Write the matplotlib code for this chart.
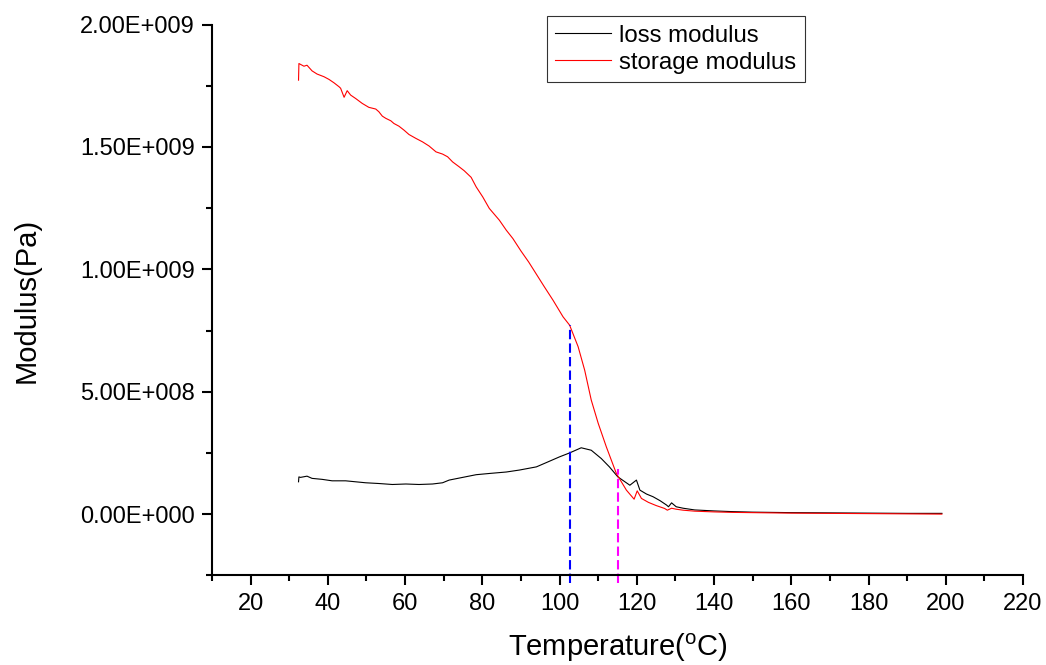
#Libraries
import numpy as np
import matplotlib
matplotlib.use('Agg')
import matplotlib.pyplot as plt
import matplotlib.ticker as ticker

#Data (temperature in C, modulus in 1E9 Pa)
temp_storage=[32.4,32.5,33.8,34.6,35.9,37.2,39.0,40.3,41.6,42.9,43.3,44.2,45.0,45.9,47.2,48.9,
              50.6,52.4,53.2,54.1,55.0,56.3,57.1,58.4,59.7,61.0,62.8,64.5,66.2,68.0,69.7,71.0,
              72.3,74.0,75.3,77.1,78.4,80.1,81.8,84.4,86.2,87.9,90.0,92.0,94.0,96.0,98.3,100.9,
              102.6,104.8,106.5,108.2,110.0,112.1,114.7,117.3,119.3,120.1,121.2,123.0,125.0,
              127.2,127.9,129.0,130.2,132.0,135.0,140.0,145.0,150.0,160.0,170.0,180.0,190.0,199.0]
storage=[1.773,1.841,1.830,1.834,1.811,1.798,1.787,1.776,1.762,1.746,1.740,1.703,1.730,1.712,1.698,1.678,
         1.662,1.655,1.644,1.626,1.617,1.607,1.596,1.585,1.569,1.551,1.535,1.521,1.504,1.480,1.471,1.460,
         1.439,1.419,1.403,1.376,1.337,1.296,1.249,1.201,1.160,1.126,1.075,1.030,0.980,0.930,0.874,0.806,
         0.772,0.684,0.588,0.466,0.371,0.275,0.166,0.098,0.061,0.095,0.064,0.048,0.035,
         0.023,0.016,0.024,0.020,0.016,0.012,0.009,0.007,0.006,0.004,0.003,0.002,0.001,0.000]

temp_loss=[32.4,32.5,32.9,34.6,35.9,38.5,41.1,44.6,47.2,49.8,53.2,56.7,60.2,63.6,67.1,69.7,71.4,
           74.9,78.4,81.8,86.2,89.6,94.0,96.5,100.0,102.6,105.6,108.2,110.8,112.9,115.1,118.2,
           119.9,120.8,122.5,124.2,126.0,127.7,128.2,129.0,130.2,132.0,135.0,140.0,145.0,150.0,
           160.0,170.0,180.0,190.0,199.0]
loss=[0.132,0.152,0.150,0.155,0.146,0.142,0.136,0.136,0.132,0.128,0.125,0.121,0.123,0.121,0.123,0.128,0.139,
      0.150,0.161,0.166,0.172,0.180,0.193,0.210,0.234,0.250,0.271,0.261,0.227,0.193,0.152,0.118,
      0.139,0.098,0.082,0.071,0.055,0.037,0.030,0.046,0.030,0.024,0.017,0.013,0.010,0.008,
      0.006,0.005,0.004,0.003,0.003]

#Reference lines (temperature, top value in 1E9 Pa)
tg_onset=(102.6,0.772)
tg_cross=(115.2,0.183)
line_bottom=-0.28

#Axis ticks
yticks=[0.0,0.5e9,1.0e9,1.5e9,2.0e9]
xticks=[20,40,60,80,100,120,140,160,180,200,220]

def format_sci(v,pos=None):
    if v==0:
        return '0.00E+000'
    e=int(np.floor(np.log10(abs(v))))
    m=v/10**e
    return '%.2fE%s%03d'%(m,'+' if e>=0 else '-',abs(e))

#Set style
plt.rcParams['font.family']=['Liberation Sans','DejaVu Sans']
plt.rcParams['mathtext.default']='regular'

fig=plt.figure(figsize=(10.46,6.65),dpi=100)
ax=fig.add_axes([0.2027,0.1349,0.7753,0.8281])

ax.plot(temp_loss,np.array(loss)*1e9,color='black',lw=0.8,label='loss modulus')
ax.plot(temp_storage,np.array(storage)*1e9,color='#ff0000',lw=0.8,label='storage modulus')

ax.plot([tg_onset[0]]*2,[line_bottom*1e9,tg_onset[1]*1e9],color='#0000ff',lw=1.5,
        linestyle=(0,(4.5,2.0)),clip_on=False)
ax.plot([tg_cross[0]]*2,[line_bottom*1e9,tg_cross[1]*1e9],color='#ff00ff',lw=1.5,
        linestyle=(0,(4.5,2.0)),clip_on=False)

ax.set_xlim(10,220)
ax.set_ylim(-0.25e9,2.0e9)
ax.set_xticks(xticks)
ax.xaxis.set_minor_locator(ticker.MultipleLocator(10))
ax.set_yticks(yticks)
ax.yaxis.set_minor_locator(ticker.MultipleLocator(0.25e9))
ax.yaxis.set_major_formatter(ticker.FuncFormatter(format_sci))

for s in ['top','right']:
    ax.spines[s].set_visible(False)
for s in ['left','bottom']:
    ax.spines[s].set_linewidth(1.5)
ax.tick_params(which='major',direction='out',length=7.5,width=1.5,labelsize=17,pad=5)
ax.tick_params(which='minor',direction='out',length=4.5,width=1.5)

ax.set_xlabel('Temperature($^{o}$C)',fontsize=21,labelpad=12)
ax.set_ylabel('Modulus(Pa)',fontsize=21,labelpad=28)

leg=ax.legend(loc='upper left',bbox_to_anchor=(0.413,1.015),fontsize=17.3,fancybox=False,
              frameon=True,edgecolor='black',handlelength=2.3,handletextpad=0.35,
              labelspacing=0.2,borderpad=0.35,borderaxespad=0)
leg.get_frame().set_linewidth(0.8)

fig.savefig('out.png',dpi=100)
